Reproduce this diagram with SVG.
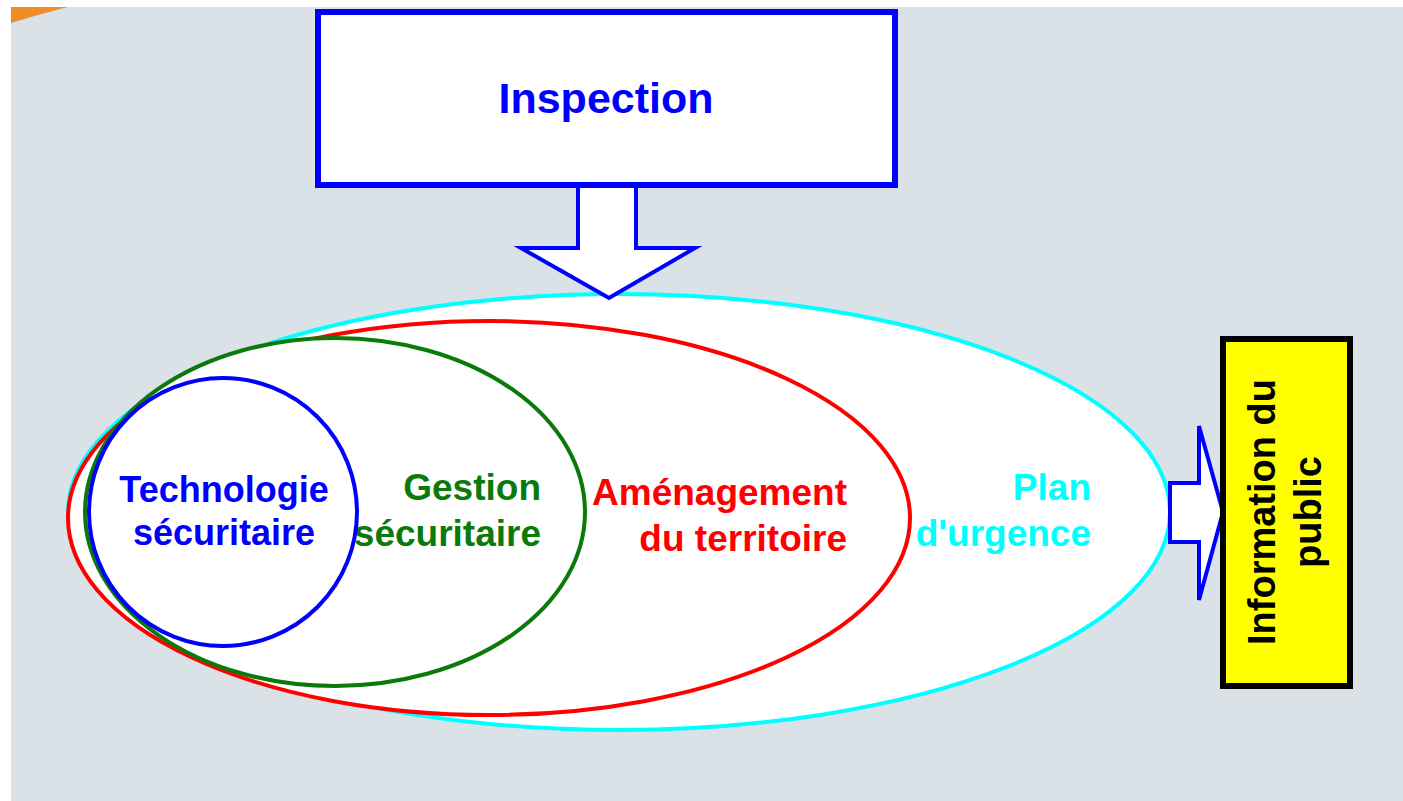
<svg xmlns="http://www.w3.org/2000/svg" width="1403" height="801" viewBox="0 0 1403 801">
<style>
.t{font-family:"Liberation Sans",Arial,sans-serif;font-weight:bold;}
.ring{fill:#ffffff;stroke-width:4;}
.arrow{fill:#ffffff;stroke:#0000ff;stroke-width:4;stroke-linejoin:miter;}
</style>
<rect x="0" y="0" width="1403" height="801" fill="#ffffff"/>
<rect x="11" y="7" width="1392" height="794" fill="#dae2e8"/>
<path d="M11,7 L68,7 Q40,14 11,23 Z" fill="#f28c28"/>
<g id="inspection">
<rect x="318" y="12" width="577" height="173" fill="#ffffff" stroke="#0000ff" stroke-width="6"/>
<text class="t" x="606" y="113" font-size="43" fill="#0000ff" text-anchor="middle">Inspection</text>
</g>
<g id="plan-urgence">
<ellipse class="ring" cx="619" cy="512" rx="551" ry="218" stroke="#00ffff"/>
<text class="t" font-size="37" fill="#00ffff" text-anchor="end"><tspan x="1091" y="500">Plan</tspan><tspan x="1091" y="546">d'urgence</tspan></text>
</g>
<g id="amenagement">
<ellipse class="ring" cx="489" cy="518" rx="421" ry="197" stroke="#ff0000"/>
<text class="t" font-size="37" fill="#ff0000" text-anchor="end"><tspan x="847" y="505">Aménagement</tspan><tspan x="847" y="551">du territoire</tspan></text>
</g>
<g id="gestion">
<ellipse class="ring" cx="335" cy="512" rx="250" ry="174" stroke="#0a7a0a"/>
<text class="t" font-size="37" fill="#0a7a0a" text-anchor="end"><tspan x="541" y="500">Gestion</tspan><tspan x="541" y="546">sécuritaire</tspan></text>
</g>
<g id="technologie">
<circle class="ring" cx="223" cy="512" r="134" stroke="#0000ff"/>
<text class="t" font-size="36" fill="#0000ff" text-anchor="middle"><tspan x="224" y="502">Technologie</tspan><tspan x="224" y="545">sécuritaire</tspan></text>
</g>
<g id="connectors">
<path class="arrow" d="M578,186 L636,186 L636,248 L695,248 L609,298 L521,248 L578,248 Z"/>
<path class="arrow" d="M1170,483 L1199,483 L1199,426 L1223,512 L1199,600 L1199,542 L1170,542 Z"/>
</g>
<g id="information">
<rect x="1223" y="339" width="127" height="347" fill="#ffff00" stroke="#000000" stroke-width="6"/>
<text class="t" font-size="38" fill="#000000" text-anchor="middle" transform="translate(1275,512) rotate(-90)">Information du</text>
<text class="t" font-size="38" fill="#000000" text-anchor="middle" transform="translate(1321,512) rotate(-90)">public</text>
</g>
</svg>
